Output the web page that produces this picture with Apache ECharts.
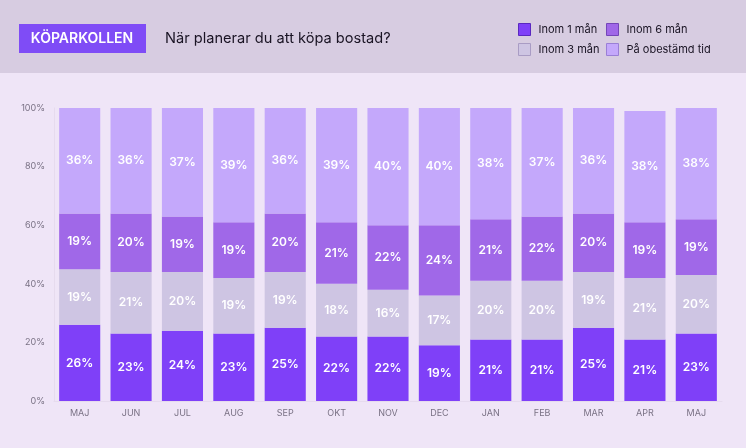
<!DOCTYPE html>
<html>
<head>
<meta charset="utf-8">
<script src="https://cdn.jsdelivr.net/npm/echarts@6/dist/echarts.min.js"></script>
<style>
  html, body { margin: 0; padding: 0; background: #efe5f7; }
  #chart { width: 746px; height: 448px; }
</style>
</head>
<body>
<div id="chart"></div>
<script>
const months = ['MAJ', 'JUN', 'JUL', 'AUG', 'SEP', 'OKT', 'NOV', 'DEC', 'JAN', 'FEB', 'MAR', 'APR', 'MAJ']
const inom1 = [26, 23, 24, 23, 25, 22, 22, 19, 21, 21, 25, 21, 23]
const inom3 = [19, 21, 20, 19, 19, 18, 16, 17, 20, 20, 19, 21, 20]
const inom6 = [19, 20, 19, 19, 20, 21, 22, 24, 21, 22, 20, 19, 19]
const obestamd = [36, 36, 37, 39, 36, 39, 40, 40, 38, 37, 36, 38, 38]
const yTicks = [0, 20, 40, 60, 80, 100]

const chart = echarts.init(document.getElementById('chart'))
const font = 'Inter, "Noto Sans", sans-serif'

const colors = {
  'Inom 1 mån': ['#7f40f8', '#5a28c0'],
  'Inom 3 mån': ['#cec5e3', '#a99cc4'],
  'Inom 6 mån': ['#a068e8', '#7446b8'],
  'På obestämd tid': ['#c4a8fb', '#9a7fd6']
}

const mkSeries = (name, data) => ({
  name,
  type: 'bar',
  stack: 'total',
  data,
  barWidth: '80%',
  itemStyle: { color: colors[name][0] },
  label: {
    show: true,
    position: 'inside',
    formatter: '{c}%',
    color: '#fff',
    fontFamily: font,
    fontWeight: 600,
    fontSize: 12
  }
})

const legendItem = name => ({
  name,
  itemStyle: { color: colors[name][0], borderColor: colors[name][1], borderWidth: 1 }
})

const legendBase = {
  orient: 'vertical',
  top: 18,
  itemWidth: 12, itemHeight: 12, itemGap: 7,
  icon: 'rect',
  textStyle: { fontFamily: font, fontSize: 11, color: '#1a1424', padding: [0, 0, 0, 3] }
}

const option = {
  backgroundColor: '#efe5f7',
  animation: false,
  graphic: [
    { type: 'rect', shape: { x: 0, y: 0, width: 746, height: 73 }, style: { fill: '#d7cce1' } },
    { type: 'rect', shape: { x: 19, y: 24, width: 127, height: 29 }, style: { fill: '#7f4cf6' } },
    {
      type: 'text', x: 82, y: 39,
      style: { text: 'KÖPARKOLLEN', fill: '#fff', font: '600 14px ' + font, align: 'center', verticalAlign: 'middle' }
    },
    {
      type: 'text', x: 165, y: 39,
      style: { text: 'När planerar du att köpa bostad?', fill: '#1a1424', font: '14.6px ' + font, verticalAlign: 'middle' }
    }
  ],
  legend: [
    Object.assign({}, legendBase, { left: 513, data: [legendItem('Inom 1 mån'), legendItem('Inom 3 mån')] }),
    Object.assign({}, legendBase, { left: 601, data: [legendItem('Inom 6 mån'), legendItem('På obestämd tid')] })
  ],
  grid: { left: 54, right: 24, top: 108, bottom: 47 },
  xAxis: {
    type: 'category',
    data: months,
    axisLine: { show: true, lineStyle: { color: '#e6dbee' } },
    axisTick: { show: false },
    axisLabel: { color: '#7a7285', fontFamily: font, fontSize: 9, margin: 8, letterSpacing: 1 }
  },
  yAxis: {
    type: 'value',
    min: 0,
    max: 100,
    interval: 20,
    axisLine: { show: true, lineStyle: { color: '#e6dbee' } },
    axisTick: { show: false },
    splitLine: { show: false },
    axisLabel: {
      color: '#7a7285', fontFamily: font, fontSize: 9, margin: 9,
      formatter: v => yTicks.includes(v) ? v + '%' : ''
    }
  },
  series: [
    mkSeries('Inom 1 mån', inom1),
    mkSeries('Inom 3 mån', inom3),
    mkSeries('Inom 6 mån', inom6),
    mkSeries('På obestämd tid', obestamd)
  ]
}

chart.setOption(option)
</script>
</body>
</html>
